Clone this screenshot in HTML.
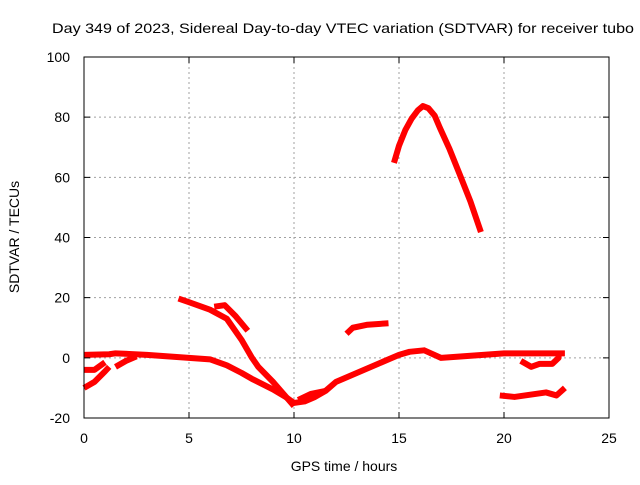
<!DOCTYPE html>
<html><head><meta charset="utf-8"><style>
body{margin:0;background:#fff;width:640px;height:480px;overflow:hidden}
svg text{font-family:"Liberation Sans",sans-serif;font-size:14px;fill:#000}
</style></head><body>
<svg id="chart" width="640" height="480" xmlns="http://www.w3.org/2000/svg">
<text x="52" y="33" textLength="582" lengthAdjust="spacingAndGlyphs">Day 349 of 2023, Sidereal Day-to-day VTEC variation (SDTVAR) for receiver tubo</text>
<g id="grid"></g><g id="series"></g>
<rect x="84" y="57" width="525" height="361" fill="none" stroke="#000" stroke-width="1"/>
<g id="ticks"></g>
<text x="344" y="471" text-anchor="middle">GPS time / hours</text>
<text transform="translate(19,237) rotate(-90)" text-anchor="middle">SDTVAR / TECUs</text>
</svg>
<script>
const xTicks=[0,5,10,15,20,25];
const yTicks=[-20,0,20,40,60,80,100];
const segBaseline=[[0,1],[1.2,1.2],[1.5,1.5],[3,1],[5,0],[6,-0.5],[6.8,-2.5],[7.5,-5],[8,-7],[9,-10.5],[9.6,-13],[10,-15],[10.5,-14.5],[11,-13],[11.5,-11],[12,-8],[13,-5],[14,-2],[15,1],[15.5,2],[16.2,2.5],[17,0],[18,0.5],[19,1],[20,1.5],[21,1.5],[22,1.5],[22.9,1.5]];
const segB=[[4.5,19.7],[5,18.5],[6,16],[6.8,13],[7.5,6],[8,0],[8.3,-3],[9,-8],[9.5,-12],[10,-16]];
const segC=[[6.2,17],[6.7,17.5],[7.2,14],[7.8,9]];
const segD=[[12.5,8],[12.8,10],[13.5,11],[14.5,11.5]];
const segE=[[14.76,64.8],[15.0,70.5],[15.3,75.7],[15.6,79.5],[15.9,82.3],[16.14,83.7],[16.4,83],[16.7,80.5],[16.95,76.4],[17.4,69.5],[17.9,60.8],[18.4,52],[18.9,41.8]];
const segF=[[0,-4],[0.5,-4],[1,-1.5]];
const segG=[[0,-10],[0.5,-8],[1,-4.5],[1.2,-3]];
const segG2=[[1.5,-3],[2,-1],[2.5,0.5]];
const segH=[[19.8,-12.5],[20.5,-13],[21.5,-12],[22,-11.5],[22.5,-12.5],[22.9,-10]];
const segI=[[20.8,-1],[21.3,-3],[21.7,-2],[22.3,-2],[22.6,0],[22.6,1]];
const segJ=[[10.2,-14],[10.8,-12],[11.5,-11]];
const allSegs=[segBaseline,segB,segC,segD,segE,segF,segG,segG2,segH,segI,segJ];
const X=t=>84+t*(525/25);
const Y=v=>418-(v+20)*(361/120);
const NS="http://www.w3.org/2000/svg";
const grid=document.getElementById('grid'),ticks=document.getElementById('ticks'),ser=document.getElementById('series');
function mk(tag,attrs,parent){const e=document.createElementNS(NS,tag);for(const k in attrs)e.setAttribute(k,attrs[k]);parent.appendChild(e);return e;}
xTicks.forEach(t=>{
 if(t>0&&t<25){const g=mk('line',{x1:X(t),x2:X(t),y1:57,y2:418,stroke:'#a0a0a0','stroke-dasharray':'2,3'},grid);
 
 }
 const tk=mk('path',{d:`M${X(t)} 418v-6M${X(t)} 57v6`,stroke:'#000'},ticks);
 
 
 const l=mk('text',{x:X(t),y:443,'text-anchor':'middle'},ticks);l.textContent=t;
 
 
});
yTicks.forEach(v=>{
 if(v>-20&&v<100){const g=mk('line',{x1:84,x2:609,y1:Y(v),y2:Y(v),stroke:'#a0a0a0','stroke-dasharray':'2,3'},grid);
 
 }
 const tk=mk('path',{d:`M84 ${Y(v)}h6M609 ${Y(v)}h-6`,stroke:'#000'},ticks);
 
 
 const l=mk('text',{x:70,y:Y(v)+5,'text-anchor':'end'},ticks);l.textContent=v;
 
 
});
allSegs.forEach(s=>{
 const p=mk('polyline',{points:s.map(d=>X(d[0])+','+Y(d[1])).join(' '),fill:'none',stroke:'#ff0000','stroke-width':6,'stroke-linejoin':'round'},ser);
 
 
});
</script>
</body></html>
